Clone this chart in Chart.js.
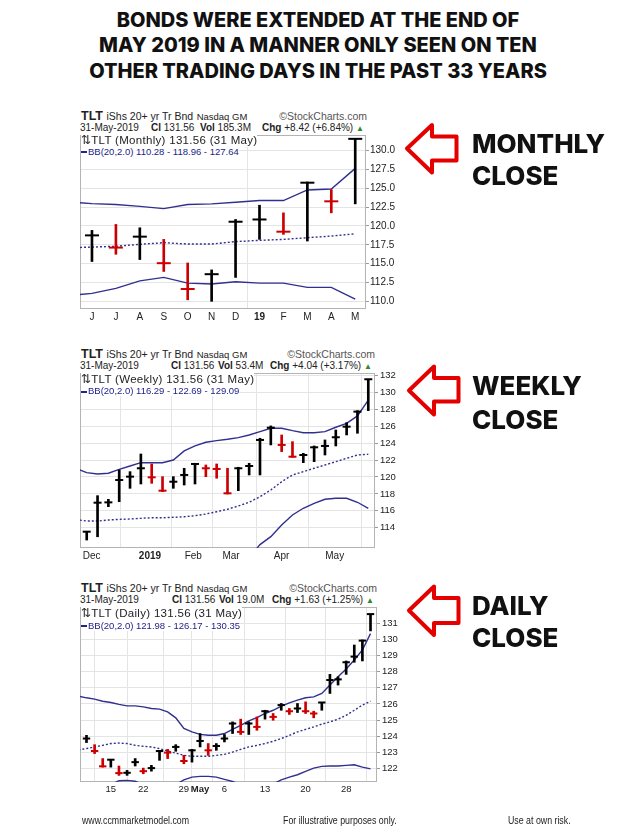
<!DOCTYPE html>
<html><head><meta charset="utf-8">
<script src="https://cdn.jsdelivr.net/npm/chart.js@4.4.1/dist/chart.umd.min.js"></script>
<style>
html,body{margin:0;padding:0;background:#fff;}
body{width:636px;height:837px;position:relative;overflow:hidden;font-family:"Liberation Sans",Arial,sans-serif;color:#222;}
.abs{position:absolute;white-space:nowrap;}
.title{left:0;width:636px;text-align:center;font-family:Inter,"DejaVu Sans",sans-serif;font-weight:800;font-size:20px;line-height:20px;color:#111;}
.big{font-family:Inter,"DejaVu Sans",sans-serif;font-weight:800;font-size:26px;line-height:26px;color:#111;left:472px;}
.l1{font-size:12.5px;line-height:14px;left:81px;}
.l1 .n1{font-size:10.5px;} .l1 .n2{font-size:9.5px;}
.sc{font-size:10.5px;line-height:14px;color:#555;}
.l2{font-size:10px;line-height:12px;}
.up{color:#2a8a2a;font-size:8px;}
.lg1{font-size:11.5px;line-height:13px;letter-spacing:0.3px;left:81px;color:#222;background:#fff;}
.lg2{font-size:9.5px;line-height:11px;left:81px;color:#22228a;background:#fff;}
.sw{display:inline-block;width:6px;height:2px;background:#22228a;vertical-align:middle;margin-right:1px;}
.foot{font-size:10px;line-height:12px;top:815px;color:#222;transform:scaleX(0.88);transform-origin:left center;}
canvas{position:absolute;}
</style></head>
<body>
<div class="abs title" style="top:10px">BONDS WERE EXTENDED AT THE END OF</div>
<div class="abs title" style="top:35px">MAY 2019 IN A MANNER ONLY SEEN ON TEN</div>
<div class="abs title" style="top:61px">OTHER TRADING DAYS IN THE PAST 33 YEARS</div>

<!-- monthly header -->
<div class="abs l1" style="top:108.7px"><b>TLT</b> <span class="n1">iShs 20+ yr Tr Bnd</span> <span class="n2">Nasdaq GM</span></div>
<div class="abs sc" style="right:269px;top:108.7px">©StockCharts.com</div>
<div class="abs l2" style="top:122px;left:80px">31-May-2019</div>
<div class="abs l2" style="top:122px;left:151px"><b>Cl</b> 131.56</div>
<div class="abs l2" style="top:122px;left:200px"><b>Vol</b> 185.3M</div>
<div class="abs l2" style="top:122px;left:262px"><b>Chg</b> +8.42 (+6.84%) <span class="up">▲</span></div>

<!-- weekly header -->
<div class="abs l1" style="top:347px"><b>TLT</b> <span class="n1">iShs 20+ yr Tr Bnd</span> <span class="n2">Nasdaq GM</span></div>
<div class="abs sc" style="right:261px;top:347px">©StockCharts.com</div>
<div class="abs l2" style="top:359.7px;left:80px">31-May-2019</div>
<div class="abs l2" style="top:359.7px;left:171px"><b>Cl</b> 131.56</div>
<div class="abs l2" style="top:359.7px;left:218px"><b>Vol</b> 53.4M</div>
<div class="abs l2" style="top:359.7px;left:270px"><b>Chg</b> +4.04 (+3.17%) <span class="up">▲</span></div>

<!-- daily header -->
<div class="abs l1" style="top:581px"><b>TLT</b> <span class="n1">iShs 20+ yr Tr Bnd</span> <span class="n2">Nasdaq GM</span></div>
<div class="abs sc" style="right:259px;top:581px">©StockCharts.com</div>
<div class="abs l2" style="top:594.4px;left:80px">31-May-2019</div>
<div class="abs l2" style="top:594.4px;left:172px"><b>Cl</b> 131.56</div>
<div class="abs l2" style="top:594.4px;left:219px"><b>Vol</b> 19.0M</div>
<div class="abs l2" style="top:594.4px;left:272px"><b>Chg</b> +1.63 (+1.25%) <span class="up">▲</span></div>

<canvas id="cM" width="321" height="191" style="left:79px;top:134px"></canvas>
<canvas id="cW" width="320" height="190" style="left:79px;top:372px"></canvas>
<canvas id="cD" width="322" height="190" style="left:79px;top:606px"></canvas>

<div class="abs lg1" style="top:133.5px">⇅TLT (Monthly) 131.56 (31 May)</div>
<div class="abs lg2" style="top:145.5px"><span class="sw"></span>BB(20,2.0) 110.28 - 118.96 - 127.64</div>
<div class="abs lg1" style="top:372.8px">⇅TLT (Weekly) 131.56 (31 May)</div>
<div class="abs lg2" style="top:385.2px"><span class="sw"></span>BB(20,2.0) 116.29 - 122.69 - 129.09</div>
<div class="abs lg1" style="top:606.8px">⇅TLT (Daily) 131.56 (31 May)</div>
<div class="abs lg2" style="top:619.5px"><span class="sw"></span>BB(20,2.0) 121.98 - 126.17 - 130.35</div>

<svg class="abs" style="left:0;top:0" width="636" height="837">
  <g fill="#fff" stroke="#e50000" stroke-width="4" stroke-linejoin="round">
    <polygon points="407,148.5 432,125 432,136.5 456.5,136.5 456.5,160.5 432,160.5 432,172.5"/>
    <polygon points="409,390.5 434,366.5 434,378 458.5,378 458.5,401.5 434,401.5 434,414.5"/>
    <polygon points="409,610.5 434,586.5 434,598 458.5,598 458.5,623 434,623 434,635"/>
  </g>
</svg>
<div class="abs big" style="top:130.8px">MONTHLY</div>
<div class="abs big" style="top:163.2px">CLOSE</div>
<div class="abs big" style="top:373.2px">WEEKLY</div>
<div class="abs big" style="top:406.5px">CLOSE</div>
<div class="abs big" style="top:593.2px">DAILY</div>
<div class="abs big" style="top:624.8px">CLOSE</div>

<div class="abs foot" style="left:82px">www.ccmmarketmodel.com</div>
<div class="abs foot" style="left:283px">For illustrative purposes only.</div>
<div class="abs foot" style="left:508px">Use at own risk.</div>

<script>
// ---------- MONTHLY (Jun 2018 - May 2019) ----------
const monthlyDates = ['2018-06','2018-07','2018-08','2018-09','2018-10','2018-11','2018-12','2019-01','2019-02','2019-03','2019-04','2019-05'];
const monthlyTickLabels = ['J','J','A','S','O','N','D','19','F','M','A','M'];
const monthlyTickPos = [0,1,2,3,4,5,6,7,8,9,10,11];
const monthlyHigh  = [119.41,120.20,119.76,118.22,115.09,114.17,120.86,122.75,121.74,125.83,124.82,131.56];
const monthlyLow   = [115.28,116.24,115.54,113.96,110.20,110.00,113.17,118.22,118.88,118.00,121.74,122.93];
const monthlyClose = [118.75,117.13,118.58,115.06,111.63,113.60,120.56,120.86,119.24,125.74,123.27,131.56];
// Bollinger bands: first value is the period before the first bar (May 2018)
const monthlyBBUpper = [123.20,122.97,122.84,122.60,122.30,122.84,122.93,123.14,123.37,123.37,124.78,124.90,127.64];
const monthlyBBMid   = [117.10,117.20,117.30,117.56,117.78,117.60,117.60,117.92,118.09,118.22,118.44,118.66,118.96];
const monthlyBBLower = [110.75,111.06,111.72,112.72,113.17,112.42,112.29,112.59,112.42,112.42,111.85,111.85,110.28];
const monthlyYTicks = [110,112.5,115,117.5,120,122.5,125,127.5,130];

// ---------- WEEKLY (week ending 30 Nov 2018 - 31 May 2019) ----------
const weeklyDates = ['11/30','12/07','12/14','12/21','12/28','01/04','01/11','01/18','01/25','02/01','02/08','02/15','02/22','03/01','03/08','03/15','03/22','03/29','04/05','04/12','04/18','04/26','05/03','05/10','05/17','05/24','05/31'];
const weeklyTickLabels = ['Dec','2019','Feb','Mar','Apr','May'];
const weeklyTickPos = [0.46,5.84,9.84,13.33,18.0,22.9];
const weeklyHigh  = [113.53,117.79,117.36,120.83,120.63,122.72,121.54,120.04,120.04,121.03,121.62,121.42,121.54,121.03,121.15,121.62,124.58,126.04,124.97,124.18,122.80,123.67,124.38,125.56,126.43,127.85,131.56];
const weeklyLow   = [112.54,112.93,116.49,117.08,118.66,119.17,119.25,118.26,118.66,119.05,119.17,120.04,119.85,117.99,118.38,120.24,120.24,123.79,123.00,122.33,121.69,121.81,122.60,123.67,124.97,125.17,127.85];
const weeklyClose = [113.53,116.96,117.00,119.64,120.04,121.03,119.96,118.38,119.44,120.24,121.54,121.03,120.95,118.07,121.03,121.30,124.38,125.83,123.79,122.40,122.60,123.51,123.67,124.70,125.95,127.73,131.56];
const weeklyBBUpper = [121.00,120.51,120.36,120.44,120.91,121.30,121.69,121.69,121.69,122.01,123.08,123.67,124.11,124.30,124.46,124.65,124.97,125.36,125.76,125.76,125.48,125.24,125.24,125.36,125.88,126.35,127.22,129.09];
const weeklyBBMid   = [114.97,114.79,114.79,114.91,114.99,115.03,115.11,115.18,115.18,115.23,115.30,115.42,115.62,115.89,116.18,116.57,117.01,117.67,118.46,119.44,120.24,120.63,121.03,121.42,121.81,122.21,122.60,122.69];
const weeklyBBLower = [108.90,109.07,109.22,109.38,109.07,108.76,108.53,108.67,108.67,108.45,107.52,107.17,107.13,107.48,107.90,108.49,110.50,112.00,112.94,114.32,115.50,116.30,116.89,117.36,117.48,117.48,117.01,116.29];
const weeklyYTicks = [114,116,118,120,122,124,126,128,130,132];

// ---------- DAILY (10 Apr 2019 - 31 May 2019) ----------
const dailyDates = ['04/10','04/11','04/12','04/15','04/16','04/17','04/18','04/22','04/23','04/24','04/25','04/26','04/29','04/30','05/01','05/02','05/03','05/06','05/07','05/08','05/09','05/10','05/13','05/14','05/15','05/16','05/17','05/20','05/21','05/22','05/23','05/24','05/28','05/29','05/30','05/31'];
const dailyTickLabels = ['15','22','29','May','6','13','20','28'];
const dailyTickPos = [3,7,12,14,17,22,27,32];
const dailyHigh  = [124.06,123.48,122.62,122.55,122.16,121.89,122.62,122.03,122.20,123.13,123.19,123.48,122.82,123.19,124.17,123.55,123.55,124.11,124.89,125.06,124.89,125.20,125.61,125.41,126.03,125.72,126.03,126.13,125.55,126.09,127.83,127.68,128.66,129.65,129.96,131.56];
const dailyLow   = [123.61,122.93,122.09,122.09,121.58,121.58,122.16,121.68,121.84,122.51,122.62,123.07,122.30,122.40,123.34,122.82,123.13,123.65,124.17,124.11,124.11,124.37,125.06,124.99,125.61,125.35,125.47,125.41,125.14,125.61,126.65,127.17,127.83,128.58,128.66,130.52];
const dailyClose = [123.86,123.09,122.14,122.55,121.72,121.74,122.40,121.84,122.03,123.09,122.99,123.34,122.47,123.13,123.71,123.13,123.40,123.86,124.79,124.27,124.79,124.58,125.55,125.20,125.93,125.55,125.72,125.55,125.41,126.09,127.48,127.52,128.58,128.93,129.92,131.56];
const dailyBBUpper = [126.48,126.38,126.30,126.17,126.09,125.97,125.88,125.88,125.82,125.72,125.68,125.51,125.14,124.48,124.27,124.12,124.06,124.06,124.17,124.43,124.68,124.95,125.16,125.41,125.61,125.86,126.07,126.24,126.38,126.44,126.65,127.17,127.68,128.16,128.72,129.34,130.35];
const dailyBBMid   = [123.16,123.24,123.34,123.44,123.55,123.58,123.55,123.44,123.38,123.34,123.24,123.09,122.96,122.82,122.76,122.76,122.76,122.82,122.88,123.02,123.19,123.34,123.44,123.55,123.69,123.86,124.06,124.27,124.43,124.58,124.75,124.89,125.06,125.30,125.61,125.93,126.17];
const dailyBBLower = [119.84,120.10,120.38,120.71,121.00,121.25,121.27,121.22,121.00,120.90,120.80,120.80,121.00,121.30,121.47,121.52,121.52,121.47,121.33,121.20,121.00,120.85,120.80,120.85,121.05,121.30,121.47,121.62,121.83,122.03,122.14,122.16,122.16,122.20,122.24,122.09,121.98];
const dailyYTicks = [122,123,124,125,126,127,128,129,130,131];

// ---------- styles ----------
const UP = '#000000', DOWN = '#cc0000', NAVY = '#30308f';
const FONT = '"Liberation Sans", Arial, sans-serif';

const boxPlugin = {
  id: 'box',
  beforeDatasetsDraw(chart) {
    const {ctx, chartArea: a} = chart;
    ctx.save();
    ctx.strokeStyle = '#b4b4b4';
    ctx.lineWidth = 1;
    ctx.strokeRect(a.left + 0.5, a.top + 0.5, a.right - a.left - 1, a.bottom - a.top - 1);
    ctx.restore();
  }
};

function panel(id, p) {
  const colors = p.close.map((c, i) => (i === 0 || c >= p.close[i - 1]) ? UP : DOWN);
  const bb = arr => arr.map((v, i) => ({x: i - 1, y: v}));
  const bbStyle = {type: 'line', borderColor: NAVY, borderWidth: 1.4, pointRadius: 0, pointHoverRadius: 0, tension: 0, order: 2};
  new Chart(document.getElementById(id), {
    type: 'bar',
    data: {datasets: [
      {type: 'bar', data: p.high.map((h, i) => ({x: i, y: [p.low[i], h]})), backgroundColor: colors,
       borderWidth: 0, barThickness: p.stick, order: 1},
      {type: 'line', data: p.close.map((c, i) => ({x: i, y: c})), showLine: false, pointStyle: 'line',
       pointRadius: p.tick, pointHoverRadius: p.tick, pointBorderWidth: 2, pointBorderColor: colors,
       pointBackgroundColor: colors, order: 0},
      Object.assign({data: bb(p.upper)}, bbStyle),
      Object.assign({data: bb(p.mid), borderDash: [2, 2]}, bbStyle),
      Object.assign({data: bb(p.lower)}, bbStyle)
    ]},
    options: {
      responsive: false, animation: false, events: [],
      layout: {autoPadding: false, padding: {left: 1, top: 1, right: 0, bottom: 0}},
      plugins: {legend: {display: false}, tooltip: {enabled: false}},
      scales: {
        x: {
          type: 'linear', min: p.xmin, max: p.xmax, offset: false,
          afterBuildTicks: s => { s.ticks = p.tickPos.map(v => ({value: v})); },
          afterFit: s => { s.height = p.xh; s.paddingLeft = 0; s.paddingRight = 0; },
          ticks: {autoSkip: false, maxRotation: 0, minRotation: 0, padding: 2, color: '#222',
            font: c => ({family: FONT, size: p.xfs, weight: (p.tickLabels[c.index] === p.boldLabel) ? 'bold' : 'normal'}),
            callback: (v, i) => p.tickLabels[i]},
          grid: {drawTicks: false, lineWidth: 1,
            color: c => (p.vgridAll || p.tickLabels[c.index] === p.boldLabel) ? '#e4e4e4' : 'rgba(0,0,0,0)'},
          border: {display: false}
        },
        y: {
          type: 'linear', position: 'right', min: p.ymin, max: p.ymax,
          afterBuildTicks: s => { s.ticks = p.yTicks.map(v => ({value: v})); },
          afterFit: s => { s.width = p.yw; s.paddingTop = 0; s.paddingBottom = 0; },
          ticks: {padding: p.ypad, color: '#222', font: {family: FONT, size: p.yfs},
            callback: v => v.toFixed(p.dec)},
          grid: {color: '#e4e4e4', tickLength: 3, tickColor: '#9a9a9a'},
          border: {display: false}
        }
      }
    },
    plugins: [boxPlugin]
  });
}

panel('cM', {high: monthlyHigh, low: monthlyLow, close: monthlyClose,
  upper: monthlyBBUpper, mid: monthlyBBMid, lower: monthlyBBLower,
  tickPos: monthlyTickPos, tickLabels: monthlyTickLabels, boldLabel: '19', vgridAll: false,
  yTicks: monthlyYTicks, dec: 1, xmin: -0.5, xmax: 11.45, ymin: 108.98, ymax: 132.07,
  stick: 2, tick: 7, xh: 16, yw: 34, xfs: 10, yfs: 10, ypad: 1});

panel('cW', {high: weeklyHigh, low: weeklyLow, close: weeklyClose,
  upper: weeklyBBUpper, mid: weeklyBBMid, lower: weeklyBBLower,
  tickPos: weeklyTickPos, tickLabels: weeklyTickLabels, boldLabel: '2019', vgridAll: true,
  yTicks: weeklyYTicks, dec: 0, xmin: -0.62, xmax: 26.62, ymin: 111.6, ymax: 132.3,
  stick: 2, tick: 4, xh: 14, yw: 24, xfs: 10, yfs: 9.5, ypad: 2});

panel('cD', {high: dailyHigh, low: dailyLow, close: dailyClose,
  upper: dailyBBUpper, mid: dailyBBMid, lower: dailyBBLower,
  tickPos: dailyTickPos, tickLabels: dailyTickLabels, boldLabel: 'May', vgridAll: true,
  yTicks: dailyYTicks, dec: 0, xmin: -0.8, xmax: 35.8, ymin: 121.17, ymax: 132.0,
  stick: 2, tick: 3.7, xh: 14, yw: 24, xfs: 9.5, yfs: 9.5, ypad: 2});
</script>
</body></html>
